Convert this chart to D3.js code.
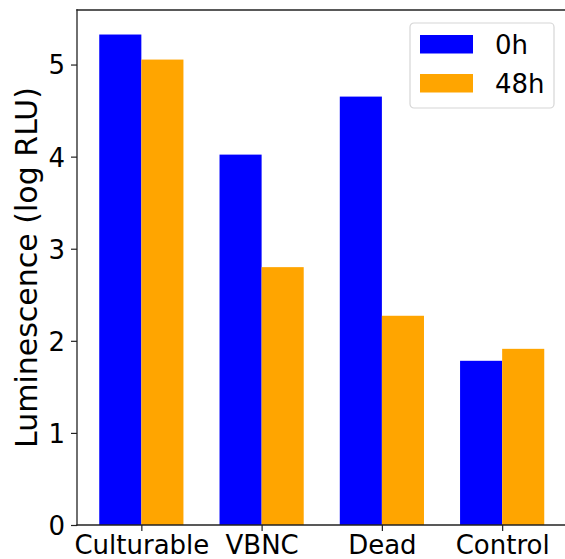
<!DOCTYPE html>
<html>
<head>
<meta charset="utf-8">
<script src="https://cdn.jsdelivr.net/npm/d3@7"></script>
<style>
  html, body { margin: 0; padding: 0; background: #fff; overflow: hidden; }
  svg { display: block; }
  svg text { font-family: "DejaVu Sans", sans-serif; }
</style>
</head>
<body>
<svg id="chart" width="565" height="559"></svg>
<script>
// Luminescence per cell state, before and after 48 h
const categories = ["Culturable", "VBNC", "Dead", "Control"];
const series = ["0h", "48h"];
const values0h = [5.326, 4.022, 4.652, 1.783];
const values48h = [5.054, 2.800, 2.272, 1.913];
const yTicks = [0, 1, 2, 3, 4, 5];
const colors = ["#0000ff", "#ffa500"];

const svg = d3.select("#chart");
const plot = { left: 77, right: 566.5, top: 10, bottom: 525 };
const barWidth = 0.35;

// x limits padded like a 5% margin around the bar extent
const xMin = -barWidth, xMax = categories.length - 1 + barWidth;
const xPad = (xMax - xMin) * 0.05;
const x = d3.scaleLinear().domain([xMin - xPad, xMax + xPad]).range([plot.left, plot.right]);
const yMax = d3.max(values0h.concat(values48h)) * 1.05;
const y = d3.scaleLinear().domain([0, yMax]).range([plot.bottom, plot.top]);

const seriesValues = [values0h, values48h];
const offsets = [-barWidth / 2, barWidth / 2];

seriesValues.forEach((vals, s) => {
  svg.append("g").selectAll("rect")
    .data(vals)
    .join("rect")
    .attr("x", (d, i) => x(i + offsets[s] - barWidth / 2))
    .attr("width", (d, i) => x(i + offsets[s] + barWidth / 2) - x(i + offsets[s] - barWidth / 2))
    .attr("y", d => y(d))
    .attr("height", d => y(0) - y(d))
    .attr("fill", colors[s]);
});

// axes
const xAxis = d3.axisBottom(x)
  .tickValues(d3.range(categories.length))
  .tickFormat(i => categories[i])
  .tickSize(6).tickPadding(5);
const yAxis = d3.axisLeft(y)
  .tickValues(yTicks)
  .tickFormat(d3.format("d"))
  .tickSize(6).tickPadding(6);

const gx = svg.append("g").attr("transform", `translate(0,${plot.bottom})`).call(xAxis);
const gy = svg.append("g").attr("transform", `translate(${plot.left},0)`).call(yAxis);
[gx, gy].forEach(g => {
  g.attr("font-family", null).attr("font-size", null);
  g.select(".domain").remove();
  g.selectAll(".tick line").attr("stroke", "#222").attr("stroke-width", 1.2);
  g.selectAll(".tick text").attr("fill", "#000").style("font-size", "26px");
});
gy.selectAll(".tick text").attr("dy", "0.36em");

// spines: left, top and bottom (the right one lies past the canvas edge)
const spines = [
  [plot.left, plot.top, plot.left, plot.bottom],
  [plot.left, plot.top, plot.right, plot.top],
  [plot.left, plot.bottom, plot.right, plot.bottom]
];
svg.append("g").selectAll("line")
  .data(spines)
  .join("line")
  .attr("x1", d => d[0]).attr("y1", d => d[1])
  .attr("x2", d => d[2]).attr("y2", d => d[3])
  .attr("stroke", "#222").attr("stroke-width", 1.3)
  .attr("stroke-linecap", "square");

// y label
svg.append("text")
  .attr("transform", `translate(37,${(plot.top + plot.bottom) / 2}) rotate(-90)`)
  .attr("text-anchor", "middle")
  .style("font-size", "30px")
  .attr("fill", "#000")
  .text("Luminescence (log RLU)");

// legend
const legend = svg.append("g").attr("transform", "translate(410,23)");
legend.append("rect")
  .attr("width", 144).attr("height", 85).attr("rx", 4)
  .attr("fill", "#fff").attr("fill-opacity", 0.8)
  .attr("stroke", "#d6d6d6").attr("stroke-width", 1.2);
series.forEach((name, s) => {
  const row = legend.append("g").attr("transform", `translate(10,${12 + s * 39})`);
  row.append("rect").attr("width", 53).attr("height", 18.5).attr("fill", colors[s]);
  row.append("text")
    .attr("x", 75).attr("y", 18.5)
    .style("font-size", "26px").attr("fill", "#000")
    .text(name);
});
</script>
</body>
</html>
